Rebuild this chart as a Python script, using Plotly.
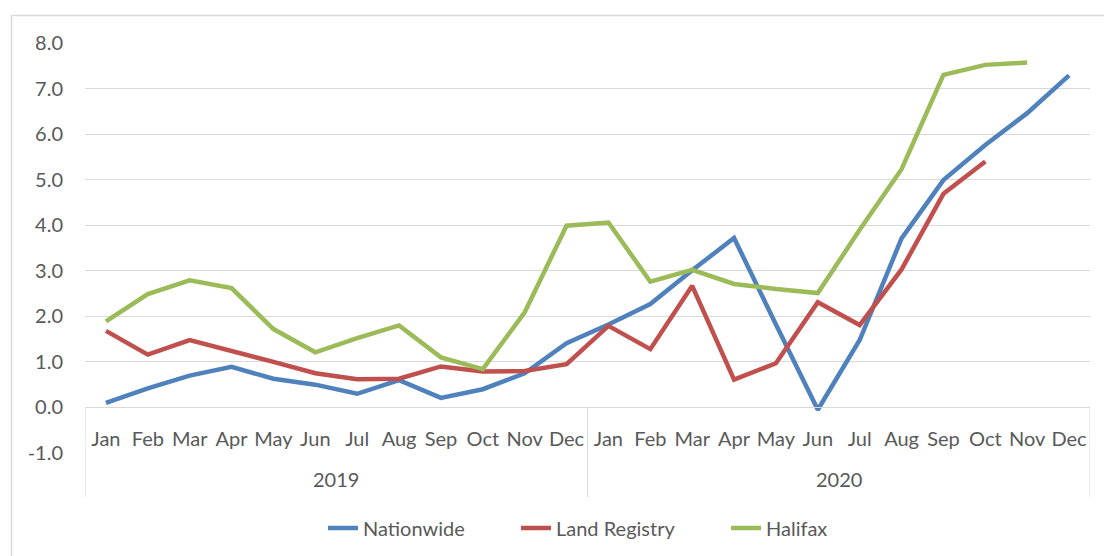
import plotly.graph_objects as go

months = ["Jan", "Feb", "Mar", "Apr", "May", "Jun", "Jul", "Aug", "Sep", "Oct", "Nov", "Dec"]
years = ["2019", "2020"]
categories = [f"{m} {y}" for y in years for m in months]
month_labels = months * len(years)

nationwide = [0.10, 0.42, 0.70, 0.89, 0.63, 0.50, 0.30, 0.60, 0.21, 0.40, 0.75, 1.41,
              1.82, 2.27, 3.01, 3.72, 1.82, -0.05, 1.48, 3.71, 4.99, 5.76, 6.46, 7.29]
land_registry = [1.68, 1.16, 1.48, 1.25, 1.00, 0.75, 0.62, 0.63, 0.90, 0.79, 0.80, 0.95,
                 1.79, 1.28, 2.67, 0.61, 0.97, 2.31, 1.81, 3.03, 4.69, 5.40, None, None]
halifax = [1.89, 2.49, 2.79, 2.62, 1.72, 1.21, 1.52, 1.80, 1.10, 0.84, 2.09, 3.99,
           4.06, 2.76, 3.02, 2.71, 2.60, 2.51, 3.90, 5.23, 7.30, 7.52, 7.57, None]

y_tick_vals = [-1, 0, 1, 2, 3, 4, 5, 6, 7, 8]
y_tick_text = ["-1.0", "0.0", "1.0", "2.0", "3.0", "4.0", "5.0", "6.0", "7.0", "8.0"]

series = [
    ("Nationwide", nationwide, "#4F81BD"),
    ("Land Registry", land_registry, "#C0504D"),
    ("Halifax", halifax, "#9BBB59"),
]

W, H = 1104, 556
L, R, T, B = 85, 14, 43, 103
PW, PH = W - L - R, H - T - B


def py(p):
    return (H - B - p) / PH


def px(p):
    return (p - L) / PW


grid = "#D9D9D9"
text_col = "#595959"
FONT = "Lato"
FS = 20

legend_names = ["legend", "legend2", "legend3"]
legend_left = [323, 516, 726]

fig = go.Figure()
for (name, vals, color), lg in zip(series, legend_names):
    fig.add_trace(go.Scatter(x=categories, y=vals, name=name, mode="lines",
                             line=dict(color=color, width=4.5), connectgaps=False,
                             legend=lg))

legend_cfg = {}
for lg, lx in zip(legend_names, legend_left):
    legend_cfg[lg] = dict(orientation="h", x=px(lx), xanchor="left", y=py(528), yanchor="middle",
                          font=dict(family=FONT, size=FS, color=text_col),
                          bgcolor="rgba(0,0,0,0)")

fig.update_layout(
    width=W, height=H,
    margin=dict(l=L, r=R, t=T, b=B, autoexpand=False),
    paper_bgcolor="white", plot_bgcolor="white",
    font=dict(family=FONT, size=FS, color=text_col),
    showlegend=True,
    xaxis=dict(type="category", categoryorder="array", categoryarray=categories,
               tickvals=categories, ticktext=month_labels, range=[-0.5, 23.5],
               anchor="free", position=1 / 9, showline=True, linecolor=grid, linewidth=1,
               showgrid=False, ticks="", ticklabelstandoff=14,
               tickfont=dict(size=FS, color=text_col)),
    yaxis=dict(range=[-1, 8], tickvals=y_tick_vals, ticktext=y_tick_text,
               showgrid=True, gridcolor=grid, gridwidth=1, zeroline=False,
               showline=False, ticks="", ticklabelstandoff=21,
               tickfont=dict(size=FS, color=text_col)),
    **legend_cfg,
)

shapes = []
# outer chart border
shapes.append(dict(type="rect", xref="paper", yref="paper",
                   x0=px(11.5), x1=px(1130), y0=py(600), y1=py(15.5),
                   line=dict(color=grid, width=1.5), fillcolor="rgba(0,0,0,0)", layer="below"))
# category box dividers
for xv in [-0.5, 11.5, 23.5]:
    shapes.append(dict(type="line", xref="x", yref="paper", x0=xv, x1=xv,
                       y0=py(497), y1=1 / 9, line=dict(color=grid, width=1)))
fig.update_layout(shapes=shapes)

for i, yr in enumerate(years):
    fig.add_annotation(x=5.5 + 12 * i, xref="x", y=py(479), yref="paper", text=yr,
                       showarrow=False, font=dict(size=FS, color=text_col),
                       xanchor="center", yanchor="middle")

fig.write_html("out.html", config={"displayModeBar": False},
               post_script="document.body.style.margin='0px';")
